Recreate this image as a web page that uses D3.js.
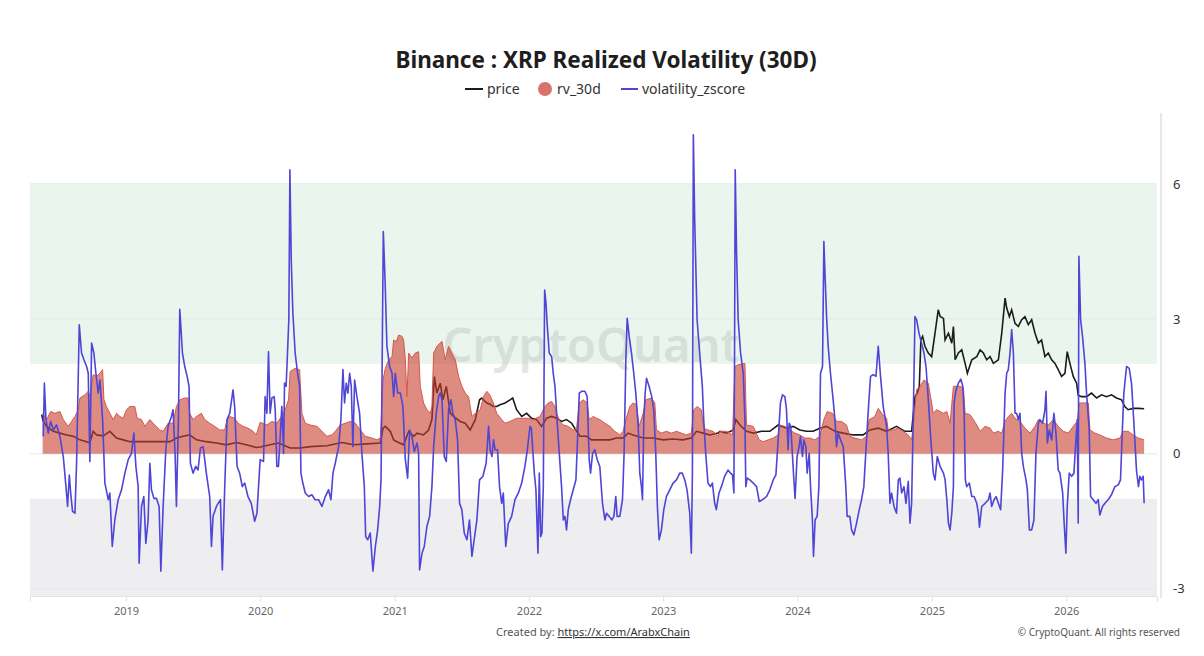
<!DOCTYPE html>
<html>
<head>
<meta charset="utf-8">
<script src="https://cdn.jsdelivr.net/npm/d3@7"></script>
<style>
  body { margin: 0; background: #fff; }
  svg { display: block; font-family: "Noto Sans", "Open Sans", sans-serif; }
</style>
</head>
<body>
<div id="chart-area"></div>
<script>
// values; time is a decimal year
const price = [
  [2018.372,0.87],[2018.384,0.72],[2018.409,0.61],[2018.459,0.5],[2018.508,0.46],[2018.558,0.42],[2018.607,0.39],[2018.657,0.31],[2018.707,0.27],[2018.731,0.24],[2018.756,0.5],[2018.781,0.42],[2018.831,0.4],[2018.880,0.5],[2018.930,0.35],[2018.979,0.31],[2019.029,0.27],[2019.103,0.27],[2019.178,0.27],[2019.252,0.27],[2019.327,0.27],[2019.376,0.35],[2019.426,0.39],[2019.475,0.42],[2019.525,0.31],[2019.599,0.27],[2019.674,0.24],[2019.748,0.2],[2019.823,0.25],[2019.897,0.2],[2019.971,0.14],
  [2020.000,0.15],[2020.074,0.2],[2020.136,0.24],[2020.223,0.13],[2020.298,0.13],[2020.372,0.16],[2020.496,0.18],[2020.608,0.25],[2020.694,0.2],[2020.794,0.22],[2020.893,0.24],[2020.913,0.57],[2020.930,0.61],[2020.967,0.5],[2020.992,0.31],[2021.017,0.27],[2021.066,0.2],[2021.104,0.5],[2021.141,0.39],[2021.166,0.46],[2021.215,0.42],[2021.252,0.53],[2021.277,0.76],[2021.295,1.72],[2021.314,1.35],[2021.339,1.57],[2021.359,1.2],[2021.384,1.5],[2021.414,0.9],[2021.438,0.83],[2021.488,0.72],[2021.525,0.68],[2021.562,0.53],[2021.600,0.76],[2021.632,1.2],[2021.649,1.24],[2021.686,1.13],
  [2021.710,1.1],[2021.735,1.05],[2021.760,1.05],[2021.784,1.09],[2021.822,1.13],[2021.859,1.2],[2021.879,1.24],[2021.908,0.98],[2021.946,0.83],[2021.983,0.9],[2022.020,0.79],[2022.057,0.76],[2022.094,0.61],[2022.132,0.79],[2022.169,0.83],[2022.206,0.79],[2022.243,0.72],[2022.280,0.76],[2022.318,0.68],[2022.350,0.53],[2022.380,0.39],[2022.429,0.39],[2022.466,0.31],[2022.528,0.31],[2022.603,0.31],[2022.652,0.35],[2022.702,0.35],[2022.739,0.46],[2022.776,0.42],[2022.851,0.35],[2022.925,0.35],[2023.000,0.31],[2023.074,0.33],[2023.148,0.31],[2023.210,0.35],[2023.248,0.5],[2023.297,0.46],[2023.347,0.42],[2023.409,0.46],
  [2023.423,0.5],[2023.473,0.46],[2023.522,0.53],[2023.542,0.76],[2023.572,0.64],[2023.621,0.5],[2023.671,0.46],[2023.733,0.5],[2023.795,0.5],[2023.857,0.64],[2023.919,0.57],[2023.969,0.61],[2024.018,0.53],[2024.068,0.5],[2024.117,0.5],[2024.167,0.57],[2024.217,0.61],[2024.279,0.5],[2024.341,0.46],[2024.415,0.42],[2024.489,0.42],[2024.539,0.53],[2024.601,0.57],[2024.663,0.5],[2024.737,0.61],[2024.799,0.5],[2024.849,0.5],[2024.874,1.27],[2024.891,1.35],[2024.906,1.5],[2024.918,2.53],[2024.931,2.61],[2024.948,2.39],[2024.973,2.24],[2024.998,2.16],[2025.023,2.68],[2025.047,3.2],
  [2025.061,3.05],[2025.086,3.01],[2025.098,2.53],[2025.123,2.68],[2025.148,2.46],[2025.160,2.83],[2025.173,2.09],[2025.197,2.24],[2025.222,2.31],[2025.247,2.01],[2025.264,1.79],[2025.297,2.09],[2025.334,2.16],[2025.359,2.31],[2025.383,2.24],[2025.408,2.09],[2025.433,2.16],[2025.458,2.01],[2025.495,2.09],[2025.520,2.68],[2025.545,3.46],[2025.557,3.24],[2025.577,3.05],[2025.594,3.2],[2025.619,2.9],[2025.644,2.83],[2025.669,2.98],[2025.693,3.05],[2025.718,2.87],[2025.743,2.98],[2025.768,2.68],[2025.793,2.46],[2025.817,2.53],[2025.842,2.16],[2025.867,2.24],[2025.892,2.09],[2025.917,2.01],[2025.941,1.87],[2025.966,1.72],[2025.991,1.79],[2026.008,2.27],[2026.028,2.01],[2026.053,1.72],[2026.078,1.57],[2026.090,1.3],[2026.115,1.27],[2026.152,1.27],[2026.189,1.35],[2026.227,1.24],[2026.264,1.31],[2026.301,1.27],[2026.338,1.31],[2026.375,1.24],[2026.413,1.2],[2026.437,1.05],[2026.462,0.98],[2026.499,1.01],[2026.537,1.01],[2026.581,1.0]
]

const rv30d = [
  [2018.379,0.9],[2018.409,0.76],[2018.439,0.94],[2018.471,0.9],[2018.508,0.94],[2018.533,0.76],[2018.570,0.61],[2018.595,0.72],[2018.620,0.83],[2018.645,0.98],[2018.657,1.24],[2018.694,1.31],[2018.719,1.39],[2018.731,1.27],[2018.756,1.76],[2018.781,1.72],[2018.806,1.79],[2018.826,1.87],[2018.836,1.2],[2018.855,1.05],[2018.880,0.9],[2018.905,0.76],[2018.930,0.9],[2018.955,0.83],[2018.979,0.79],[2019.004,0.98],[2019.029,1.05],[2019.066,1.05],[2019.084,0.79],[2019.116,0.76],[2019.141,0.61],[2019.178,0.76],[2019.215,0.64],[2019.252,0.53],[2019.277,0.5],[2019.314,0.68],[2019.351,0.68],[2019.376,1.05],[2019.401,1.2],[2019.438,1.24],[2019.463,1.24],[2019.475,0.9],[2019.500,0.76],[2019.525,0.83],[2019.562,0.9],[2019.587,0.76],[2019.624,0.68],[2019.661,0.61],[2019.699,0.53],[2019.736,0.53],[2019.753,0.76],[2019.773,0.83],[2019.810,0.79],[2019.835,0.68],[2019.872,0.61],[2019.909,0.57],[2019.947,0.5],[2019.971,0.42],
  [2020.000,0.7],[2020.050,0.64],[2020.087,0.72],[2020.124,0.68],[2020.149,0.79],[2020.186,0.98],[2020.211,1.2],[2020.223,1.83],[2020.260,1.9],[2020.293,1.87],[2020.310,0.9],[2020.335,0.68],[2020.372,0.64],[2020.422,0.61],[2020.459,0.5],[2020.496,0.39],[2020.533,0.42],[2020.558,0.5],[2020.595,0.64],[2020.632,0.68],[2020.670,0.72],[2020.707,0.68],[2020.744,0.53],[2020.781,0.39],[2020.831,0.35],[2020.868,0.31],[2020.893,0.35],[2020.913,1.64],[2020.930,1.9],[2020.955,2.09],[2020.980,2.16],[2020.992,2.53],[2021.012,2.49],[2021.029,2.64],[2021.054,2.61],[2021.066,2.53],[2021.079,2.09],[2021.091,1.27],[2021.104,2.24],[2021.128,2.13],[2021.153,2.24],[2021.178,2.27],[2021.190,1.5],[2021.215,1.13],[2021.240,0.98],[2021.265,0.9],[2021.277,1.05],[2021.290,2.24],[2021.314,2.39],[2021.352,2.5],[2021.376,2.09],[2021.401,2.39],[2021.426,2.24],[2021.451,2.09],[2021.476,1.72],[2021.500,1.5],[2021.525,1.35],[2021.550,1.27],[2021.575,0.83],[2021.600,0.9],[2021.637,0.98],[2021.662,1.27],[2021.686,1.39],
  [2021.710,1.3],[2021.735,1.13],[2021.760,0.9],[2021.797,0.76],[2021.822,0.68],[2021.859,0.72],[2021.908,0.79],[2021.958,0.79],[2021.995,0.79],[2022.032,0.76],[2022.082,0.83],[2022.119,1.05],[2022.144,1.13],[2022.169,1.16],[2022.194,1.05],[2022.206,0.9],[2022.231,0.72],[2022.256,0.64],[2022.293,0.61],[2022.330,0.53],[2022.355,0.57],[2022.375,1.13],[2022.404,1.2],[2022.434,1.13],[2022.449,0.76],[2022.479,0.83],[2022.504,0.79],[2022.528,0.76],[2022.566,0.68],[2022.603,0.61],[2022.640,0.5],[2022.677,0.42],[2022.702,0.5],[2022.722,0.76],[2022.752,1.05],[2022.776,1.13],[2022.801,1.09],[2022.821,0.61],[2022.851,0.9],[2022.871,1.2],[2022.913,1.24],[2022.938,1.13],[2022.950,0.53],[2022.987,0.46],[2023.024,0.5],[2023.062,0.46],[2023.099,0.5],[2023.136,0.46],[2023.173,0.42],[2023.210,0.46],[2023.228,0.98],[2023.253,1.05],[2023.285,0.98],[2023.302,0.57],[2023.334,0.53],[2023.372,0.5],[2023.409,0.39],
  [2023.423,0.5],[2023.473,0.5],[2023.517,0.42],[2023.535,1.94],[2023.559,1.98],[2023.609,2.01],[2023.621,0.64],[2023.671,0.61],[2023.716,0.31],[2023.745,0.27],[2023.783,0.31],[2023.820,0.35],[2023.857,0.42],[2023.869,0.64],[2023.907,0.61],[2023.944,0.53],[2023.981,0.46],[2024.018,0.42],[2024.055,0.35],[2024.093,0.35],[2024.130,0.31],[2024.167,0.39],[2024.197,0.76],[2024.222,0.94],[2024.261,0.9],[2024.291,0.72],[2024.328,0.72],[2024.365,0.64],[2024.390,0.39],[2024.427,0.35],[2024.477,0.31],[2024.514,0.39],[2024.534,0.76],[2024.576,0.83],[2024.601,1.01],[2024.626,0.9],[2024.663,0.79],[2024.675,0.53],[2024.713,0.53],[2024.750,0.57],[2024.787,0.5],[2024.824,0.42],[2024.849,0.31],[2024.866,0.76],[2024.886,1.42],[2024.911,1.5],[2024.941,1.64],[2024.973,1.57],[2024.990,1.27],[2025.010,0.9],[2025.035,0.98],
  [2025.061,0.94],[2025.086,0.9],[2025.111,0.94],[2025.135,0.68],[2025.160,1.5],[2025.185,1.5],[2025.210,1.5],[2025.235,1.46],[2025.247,0.9],[2025.284,0.87],[2025.309,0.76],[2025.334,0.64],[2025.359,0.5],[2025.396,0.61],[2025.433,0.57],[2025.458,0.46],[2025.495,0.5],[2025.520,0.46],[2025.545,0.72],[2025.569,0.83],[2025.594,0.9],[2025.619,0.79],[2025.656,0.72],[2025.693,0.57],[2025.731,0.46],[2025.768,0.61],[2025.793,0.76],[2025.830,0.68],[2025.867,0.64],[2025.904,0.76],[2025.941,0.61],[2025.979,0.5],[2026.016,0.46],[2026.053,0.61],[2026.083,0.72],[2026.098,1.13],[2026.127,1.13],[2026.165,1.13],[2026.177,0.53],[2026.214,0.46],[2026.251,0.42],[2026.301,0.35],[2026.351,0.31],[2026.400,0.35],[2026.425,0.5],[2026.462,0.5],[2026.499,0.42],[2026.537,0.35],[2026.581,0.31]
]

const zscore = [
  [2018.384,0.39],[2018.392,1.57],[2018.404,0.76],[2018.421,0.46],[2018.439,0.72],[2018.459,0.53],[2018.483,0.64],[2018.508,0.39],[2018.533,-0.06],[2018.553,-0.73],[2018.565,-1.17],[2018.578,-0.47],[2018.588,-0.87],[2018.602,-1.28],[2018.620,-1.32],[2018.632,-0.21],[2018.652,2.87],[2018.669,2.24],[2018.687,2.09],[2018.707,1.94],[2018.719,1.79],[2018.731,-0.17],[2018.744,2.46],[2018.761,2.24],[2018.776,1.79],[2018.793,1.35],[2018.806,1.64],[2018.826,0.76],[2018.843,-0.65],[2018.868,-1.02],[2018.880,-0.87],[2018.898,-2.06],[2018.917,-1.47],[2018.942,-1.02],[2018.967,-0.8],[2018.992,-0.43],[2019.017,-0.13],[2019.041,0.01],[2019.059,0.46],[2019.074,-0.28],[2019.091,-0.73],[2019.098,-2.43],[2019.116,-1.17],[2019.133,-0.95],[2019.148,-1.99],[2019.165,-1.47],[2019.178,-0.21],[2019.190,-0.8],[2019.208,-0.99],[2019.227,-0.99],[2019.247,-1.17],[2019.260,-2.61],[2019.277,-1.17],[2019.297,0.09],[2019.314,0.61],[2019.339,0.83],[2019.351,0.98],[2019.366,0.01],[2019.376,-1.17],[2019.391,0.76],[2019.401,3.21],[2019.421,2.24],[2019.438,1.94],[2019.456,1.72],[2019.470,1.5],[2019.480,-0.21],[2019.500,-0.43],[2019.520,-0.28],[2019.537,-0.36],[2019.555,0.13],[2019.575,0.16],[2019.599,-0.43],[2019.624,-0.95],[2019.637,-2.06],[2019.649,-1.39],[2019.674,-1.17],[2019.704,-1.02],[2019.718,-2.58],[2019.736,-0.73],[2019.753,0.76],[2019.773,0.9],[2019.798,1.42],[2019.810,1.05],[2019.828,-0.28],[2019.847,-0.43],[2019.867,-0.73],[2019.885,-0.65],[2019.909,-0.95],[2019.934,-1.1],[2019.959,-1.5],[2019.976,-1.32],
  [2020.000,-0.13],[2020.025,-0.17],[2020.037,1.27],[2020.050,0.9],[2020.062,2.27],[2020.074,0.9],[2020.087,1.24],[2020.104,1.27],[2020.112,0.98],[2020.124,-0.28],[2020.136,-0.28],[2020.149,0.39],[2020.161,1.05],[2020.174,0.01],[2020.181,1.57],[2020.193,1.5],[2020.203,2.24],[2020.213,2.98],[2020.221,6.31],[2020.231,4.31],[2020.243,3.13],[2020.260,2.24],[2020.278,1.79],[2020.293,1.5],[2020.303,-0.43],[2020.317,-0.65],[2020.335,-0.87],[2020.360,-0.95],[2020.384,-0.91],[2020.409,-1.02],[2020.434,-1.02],[2020.459,-1.17],[2020.484,-0.95],[2020.508,-0.8],[2020.526,-1.02],[2020.541,-0.43],[2020.558,-0.21],[2020.583,0.16],[2020.600,0.76],[2020.615,1.87],[2020.627,1.13],[2020.640,1.57],[2020.652,1.35],[2020.665,1.79],[2020.677,1.5],[2020.689,0.16],[2020.702,1.64],[2020.719,1.27],[2020.739,0.9],[2020.756,0.01],[2020.774,-0.73],[2020.784,-1.84],[2020.799,-1.91],[2020.818,-1.76],[2020.838,-2.61],[2020.856,-2.06],[2020.873,-1.69],[2020.888,-1.17],[2020.898,-0.58],[2020.905,1.5],[2020.915,4.94],[2020.928,3.87],[2020.942,2.39],[2020.962,1.94],[2020.980,1.79],[2020.992,1.27],[2021.004,1.79],[2021.022,1.35],[2021.042,1.35],[2021.061,1.05],[2021.079,-0.13],[2021.096,-0.54],[2021.111,0.53],[2021.128,0.39],[2021.146,0.05],[2021.166,0.24],[2021.178,0.01],[2021.185,-2.58],[2021.203,-2.21],[2021.220,-2.06],[2021.240,-1.61],[2021.260,-1.39],[2021.277,-0.73],[2021.290,0.16],[2021.309,0.9],[2021.327,1.27],[2021.339,1.35],[2021.352,1.2],[2021.369,-0.06],[2021.384,-0.17],[2021.401,0.98],[2021.419,1.2],[2021.433,0.9],[2021.451,0.76],[2021.468,0.31],[2021.483,-1.1],[2021.500,-1.24],[2021.518,-1.76],[2021.538,-1.91],[2021.557,-1.47],[2021.575,-2.28],[2021.592,-1.91],[2021.612,-1.47],[2021.632,-0.58],[2021.657,-0.5],[2021.681,-0.21],[2021.699,0.61],[2021.711,0.09],[2021.724,-0.06],[2021.736,0.31],[2021.748,0.09],[2021.766,0.09],[2021.781,-0.73],
  [2021.797,-1.1],[2021.809,-0.87],[2021.827,-2.06],[2021.846,-1.55],[2021.871,-1.39],[2021.896,-1.02],[2021.921,-0.87],[2021.946,-0.65],[2021.970,-0.28],[2021.988,0.09],[2022.008,0.61],[2022.018,0.57],[2022.027,0.16],[2022.040,-0.43],[2022.052,-0.8],[2022.067,-2.21],[2022.077,-0.43],[2022.087,-1.84],[2022.097,-1.76],[2022.107,-0.73],[2022.117,3.64],[2022.127,3.35],[2022.137,2.83],[2022.151,2.24],[2022.169,2.16],[2022.181,1.79],[2022.194,1.5],[2022.206,0.9],[2022.226,0.01],[2022.243,-0.73],[2022.256,-1.47],[2022.268,-1.39],[2022.280,-1.69],[2022.293,-1.24],[2022.310,-1.02],[2022.330,-0.8],[2022.350,-0.58],[2022.362,0.31],[2022.375,1.35],[2022.392,1.39],[2022.417,1.39],[2022.434,1.27],[2022.449,-0.13],[2022.459,-0.43],[2022.474,0.01],[2022.491,0.09],[2022.509,-0.13],[2022.528,-0.28],[2022.548,-1.1],[2022.566,-1.47],[2022.578,-1.32],[2022.598,-1.39],[2022.618,-1.47],[2022.633,-1.39],[2022.647,-0.95],[2022.657,-1.39],[2022.677,-1.39],[2022.697,-1.02],[2022.709,0.01],[2022.722,2.09],[2022.732,3.01],[2022.747,2.61],[2022.764,2.24],[2022.781,1.79],[2022.796,1.35],[2022.814,0.61],[2022.826,-0.43],[2022.838,-0.73],[2022.846,-1.02],[2022.856,0.76],[2022.866,1.35],[2022.876,1.68],[2022.895,1.5],[2022.915,1.27],[2022.930,0.98],[2022.945,0.01],[2022.957,-1.17],[2022.970,-1.91],[2022.987,-1.69],[2023.005,-1.24],[2023.024,-0.95],[2023.049,-0.8],[2023.074,-0.65],[2023.099,-0.58],[2023.124,-0.43],[2023.143,-0.43],[2023.161,-0.58],[2023.178,-0.8],[2023.198,-1.32],[2023.210,-2.21],[2023.218,-0.43],[2023.225,7.09],[2023.235,5.2],[2023.253,2.98],[2023.272,2.24],[2023.292,1.5],[2023.302,0.76],[2023.317,0.01],[2023.334,-0.65],[2023.352,-0.73],[2023.367,-0.65],[2023.384,-1.1],[2023.396,-1.24],[2023.416,-0.87],[2023.434,-0.73],[2023.458,-0.5],[2023.483,-0.36],
  [2023.502,-0.43],[2023.517,-0.47],[2023.527,-0.87],[2023.532,2.24],[2023.537,6.31],[2023.547,4.46],[2023.559,2.98],[2023.577,2.24],[2023.597,1.79],[2023.609,0.76],[2023.616,-0.73],[2023.626,-0.54],[2023.646,-0.58],[2023.671,-0.65],[2023.696,-0.73],[2023.716,-1.06],[2023.740,-1.02],[2023.770,-0.95],[2023.795,-0.8],[2023.820,-0.58],[2023.840,-0.47],[2023.857,0.31],[2023.874,1.13],[2023.889,1.31],[2023.907,1.27],[2023.919,0.98],[2023.931,0.09],[2023.939,0.68],[2023.951,0.61],[2023.964,-0.06],[2023.974,-0.58],[2023.983,-0.99],[2023.998,-0.06],[2024.013,0.16],[2024.023,0.39],[2024.038,-0.06],[2024.048,0.31],[2024.063,0.16],[2024.073,-0.43],[2024.088,0.01],[2024.098,-0.73],[2024.112,-1.47],[2024.120,-2.28],[2024.132,-1.47],[2024.147,-1.39],[2024.160,-0.73],[2024.172,1.79],[2024.187,1.94],[2024.197,4.72],[2024.207,3.87],[2024.217,3.05],[2024.229,2.39],[2024.246,1.79],[2024.266,1.2],[2024.279,0.76],[2024.291,0.16],[2024.303,0.46],[2024.321,0.31],[2024.341,0.16],[2024.360,-0.73],[2024.370,-1.39],[2024.390,-1.39],[2024.403,-1.69],[2024.420,-1.8],[2024.440,-1.54],[2024.460,-1.24],[2024.477,-1.02],[2024.494,-0.73],[2024.514,0.31],[2024.532,1.2],[2024.544,1.72],[2024.564,1.76],[2024.584,1.72],[2024.601,2.39],[2024.618,1.72],[2024.638,1.05],[2024.663,0.61],[2024.675,0.01],[2024.688,-1.1],[2024.700,-0.87],[2024.718,-1.17],[2024.737,-1.32],[2024.750,-0.58],[2024.762,-0.54],[2024.775,-0.87],[2024.792,-0.73],[2024.807,-1.1],[2024.824,-0.61],[2024.837,-1.54],[2024.849,-1.1],[2024.861,0.76],[2024.874,3.05],[2024.886,2.98],[2024.904,2.68],[2024.923,2.46],[2024.941,2.24],[2024.956,1.94],[2024.973,1.2],[2024.990,0.39],[2025.010,-0.43],[2025.023,-0.58],[2025.040,-0.06],
  [2025.061,-0.28],[2025.086,-0.43],[2025.098,-0.58],[2025.111,-1.02],[2025.123,-1.54],[2025.135,-1.69],[2025.148,-1.32],[2025.160,-0.73],[2025.165,1.13],[2025.180,1.42],[2025.197,1.57],[2025.215,1.66],[2025.230,1.5],[2025.240,0.9],[2025.249,-0.58],[2025.259,-0.73],[2025.279,-0.65],[2025.297,-0.95],[2025.314,-0.95],[2025.334,-1.1],[2025.346,-1.32],[2025.354,-1.63],[2025.371,-1.17],[2025.396,-1.1],[2025.421,-1.02],[2025.433,-0.87],[2025.445,-1.17],[2025.463,-1.02],[2025.478,-0.95],[2025.495,-1.1],[2025.512,-1.24],[2025.527,-0.36],[2025.545,1.35],[2025.557,1.79],[2025.569,1.87],[2025.582,2.24],[2025.594,2.76],[2025.607,2.24],[2025.619,0.9],[2025.631,0.9],[2025.644,0.76],[2025.656,0.9],[2025.669,0.01],[2025.681,-0.28],[2025.701,-0.58],[2025.711,-0.8],[2025.726,-1.69],[2025.743,-1.69],[2025.760,-1.47],[2025.775,0.01],[2025.793,0.68],[2025.805,0.76],[2025.825,0.68],[2025.842,0.98],[2025.850,1.39],[2025.860,0.24],[2025.874,0.53],[2025.892,0.31],[2025.909,0.9],[2025.924,0.46],[2025.941,-0.36],[2025.954,-0.43],[2025.974,-0.87],[2025.984,-1.47],[2025.998,-2.21],[2026.008,-1.17],[2026.023,-0.43],[2026.041,-0.5],[2026.058,-0.43],[2026.073,0.31],[2026.083,0.76],[2026.090,-1.54],[2026.095,4.39],[2026.108,2.98],[2026.122,2.61],[2026.140,2.01],[2026.152,1.35],[2026.172,0.53],[2026.182,-0.95],[2026.202,-1.02],[2026.222,-1.1],[2026.239,-1.02],[2026.251,-1.36],[2026.271,-1.17],[2026.289,-1.1],[2026.313,-1.02],[2026.338,-0.91],[2026.363,-0.73],[2026.388,-0.69],[2026.405,-0.58],[2026.418,0.46],[2026.430,1.35],[2026.450,1.94],[2026.470,1.9],[2026.487,1.57],[2026.499,0.98],[2026.512,0.31],[2026.524,-0.36],[2026.539,-0.73],[2026.549,-0.5],[2026.561,-0.58],[2026.574,-0.5],[2026.581,-1.1]
]

const yTicks = [-3, 0, 3, 6]
const highZone = [2, 6]
const lowZone = [-1, -3.16]
const timeSpan = [2018.285, 2026.677]
const valueSpan = [-3.16, 7.53]

// decimal year -> UTC date
function toDate(t) {
  const y = Math.floor(t)
  const a = Date.UTC(y, 0, 1), b = Date.UTC(y + 1, 0, 1)
  return new Date(a + (t - y) * (b - a))
}

const W = 1204, H = 656
const MARGIN = { LEFT: 30, RIGHT: 47, TOP: 115, BOTTOM: 60 }
const WIDTH = W - MARGIN.LEFT - MARGIN.RIGHT
const HEIGHT = H - MARGIN.TOP - MARGIN.BOTTOM

const svg = d3.select("#chart-area").append("svg")
  .attr("width", W)
  .attr("height", H)

const g = svg.append("g")
  .attr("transform", `translate(${MARGIN.LEFT}, ${MARGIN.TOP})`)

const x = d3.scaleUtc()
  .domain(timeSpan.map(toDate))
  .range([0, WIDTH])

const y = d3.scaleLinear()
  .domain(valueSpan)
  .range([HEIGHT, 0])

// shaded zones
g.append("rect")
  .attr("x", 0).attr("width", WIDTH)
  .attr("y", y(highZone[1])).attr("height", y(highZone[0]) - y(highZone[1]))
  .attr("fill", "#eaf5ed")
g.append("rect")
  .attr("x", 0).attr("width", WIDTH)
  .attr("y", y(lowZone[0])).attr("height", y(lowZone[1]) - y(lowZone[0]))
  .attr("fill", "#eeeef1")

// grid
g.append("g").selectAll("line").data(yTicks).join("line")
  .attr("x1", 0).attr("x2", WIDTH)
  .attr("y1", d => y(d)).attr("y2", d => y(d))
  .attr("stroke", "#e4e8e6").attr("stroke-width", 1)

// watermark
g.append("text")
  .attr("x", 561).attr("y", 247)
  .attr("text-anchor", "middle")
  .attr("font-size", "47px")
  .attr("font-weight", 600)
  .attr("fill", "#a9b0b0")
  .attr("opacity", 0.3)
  .text("CryptoQuant")

// x axis
const xAxisCall = d3.axisBottom(x)
  .ticks(d3.utcYear.every(1))
  .tickFormat(d3.utcFormat("%Y"))
  .tickSize(6)
const xAxis = g.append("g")
  .attr("transform", `translate(0, ${HEIGHT})`)
  .call(xAxisCall)
xAxis.select(".domain").attr("stroke", "#e2e2e2")
xAxis.selectAll(".tick line").attr("stroke", "#e2e2e2")
xAxis.selectAll("text")
  .attr("fill", "#666")
  .attr("font-size", "11px")
  .attr("dy", "0.95em")
  .attr("font-family", "'Noto Sans', sans-serif")

// right y axis
const yAxisCall = d3.axisRight(y).tickValues(yTicks).tickFormat(d => String(d)).tickSize(0).tickPadding(12)
const yAxis = g.append("g")
  .attr("transform", `translate(${WIDTH + 4}, 0)`)
  .call(yAxisCall)
yAxis.select(".domain").attr("stroke", "#d0d0d0").attr("d", `M0,-2V${HEIGHT + 2}`)
yAxis.selectAll("text")
  .attr("fill", "#333")
  .attr("font-size", "13px")
  .attr("font-family", "'Noto Sans', sans-serif")

// series
const priceLine = d3.line().x(d => x(toDate(d[0]))).y(d => y(d[1]))
const rvArea = d3.area().x(d => x(toDate(d[0]))).y0(y(0)).y1(d => y(d[1]))
const rvTop = d3.line().x(d => x(toDate(d[0]))).y(d => y(d[1]))
const zLine = d3.line().x(d => x(toDate(d[0]))).y(d => y(d[1]))

g.append("path").datum(price)
  .attr("d", priceLine)
  .attr("fill", "none")
  .attr("stroke", "#1c1c1c")
  .attr("stroke-width", 1.6)

g.append("path").datum(rv30d)
  .attr("d", rvArea)
  .attr("fill", "#c8402f")
  .attr("fill-opacity", 0.6)
g.append("path").datum(rv30d)
  .attr("d", rvTop)
  .attr("fill", "none")
  .attr("stroke", "#d6574d")
  .attr("stroke-width", 1)

g.append("path").datum(zscore)
  .attr("d", zLine)
  .attr("fill", "none")
  .attr("stroke", "#4f45d6")
  .attr("stroke-width", 1.6)
  .attr("stroke-linejoin", "round")

// title
svg.append("text")
  .attr("x", 606).attr("y", 68)
  .attr("text-anchor", "middle")
  .attr("font-size", "22.5px")
  .attr("font-weight", "bold")
  .attr("fill", "#1e1e1e")
  .text("Binance : XRP Realized Volatility (30D)")

// legend
const legend = svg.append("g").attr("transform", "translate(0, 89)")
  .attr("font-size", "14px").attr("fill", "#333")
legend.append("line").attr("x1", 465).attr("x2", 483).attr("stroke", "#1c1c1c").attr("stroke-width", 2)
legend.append("text").attr("x", 487).attr("dy", "0.35em").text("price")
legend.append("circle").attr("cx", 545).attr("r", 7).attr("fill", "#d9726b")
legend.append("text").attr("x", 557).attr("dy", "0.35em").text("rv_30d")
legend.append("line").attr("x1", 621).attr("x2", 638).attr("stroke", "#4f45d6").attr("stroke-width", 2)
legend.append("text").attr("x", 642).attr("dy", "0.35em").text("volatility_zscore")

// footer
const credit = svg.append("text")
  .attr("x", 593).attr("y", 636)
  .attr("text-anchor", "middle")
  .attr("font-size", "11px")
  .attr("fill", "#555")
credit.append("tspan").text("Created by: ")
credit.append("tspan").attr("fill", "#333").attr("text-decoration", "underline").text("https://x.com/ArabxChain")

svg.append("text")
  .attr("x", 1180).attr("y", 636)
  .attr("text-anchor", "end")
  .attr("font-size", "10px")
  .attr("fill", "#555")
  .text("© CryptoQuant. All rights reserved")
</script>
</body>
</html>
